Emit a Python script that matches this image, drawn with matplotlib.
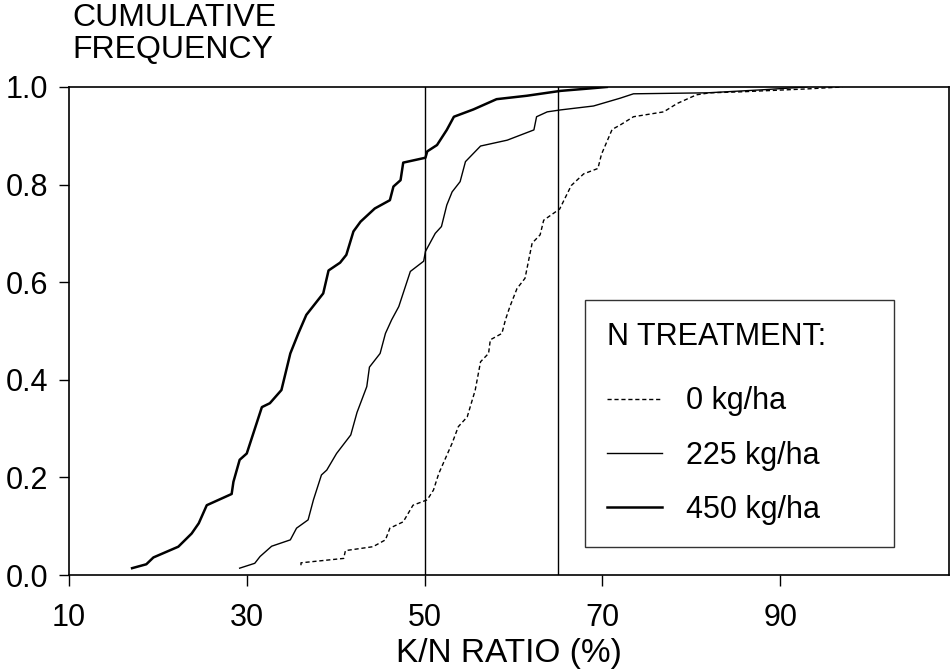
import matplotlib
matplotlib.use("Agg")
import matplotlib.pyplot as plt

plt.rcParams['font.family'] = ['Liberation Sans', 'DejaVu Sans']

# cumulative frequency curves
x_0 = [36.1, 36.1, 40.9, 41.1, 44.2, 45.6, 46.1, 47.6, 48.7, 50.3, 51.0, 51.6,
       53.1, 53.8, 54.8, 55.7, 56.3, 57.2, 57.4, 58.7, 59.1, 59.6, 60.4, 61.3,
       62.1, 63.0, 63.4, 65.2, 66.5, 67.9, 69.5, 69.9, 71.1, 72.0, 73.5, 76.9,
       78.4, 80.6, 82.1, 85.5, 93.0, 97.0]
y_0 = [0.020, 0.025, 0.034, 0.050, 0.058, 0.072, 0.096, 0.109, 0.143, 0.154,
       0.174, 0.208, 0.270, 0.304, 0.324, 0.379, 0.437, 0.454, 0.482, 0.495,
       0.523, 0.550, 0.587, 0.608, 0.680, 0.697, 0.727, 0.750, 0.798, 0.822,
       0.833, 0.862, 0.913, 0.922, 0.939, 0.949, 0.966, 0.984, 0.988, 0.990,
       0.996, 1.0]

x_225 = [29.2, 30.9, 31.5, 32.8, 34.9, 35.6, 36.9, 37.5, 38.4, 39.0, 40.1, 40.9,
         41.7, 42.4, 43.5, 43.8, 45.0, 45.6, 46.3, 47.1, 48.4, 49.9, 50.1, 51.2,
         51.9, 52.5, 53.1, 54.0, 54.6, 56.3, 59.3, 62.3, 62.6, 63.8, 65.3, 69.0,
         72.0, 73.5, 81.8, 87.8, 93.0]
y_225 = [0.014, 0.024, 0.038, 0.059, 0.072, 0.096, 0.113, 0.154, 0.205, 0.215,
         0.249, 0.268, 0.287, 0.333, 0.386, 0.426, 0.454, 0.495, 0.523, 0.550,
         0.622, 0.643, 0.663, 0.700, 0.714, 0.758, 0.785, 0.806, 0.847, 0.879,
         0.891, 0.912, 0.939, 0.949, 0.953, 0.961, 0.977, 0.986, 0.988, 0.994,
         1.0]

x_450 = [17.1, 18.7, 19.5, 22.3, 23.8, 24.6, 25.5, 28.3, 28.5, 29.2, 30.0, 31.7,
         32.6, 33.9, 34.9, 35.8, 36.7, 38.6, 39.2, 40.5, 41.2, 42.0, 42.8, 44.4,
         46.1, 46.5, 47.3, 47.6, 50.1, 50.3, 51.4, 52.5, 53.3, 55.5, 58.1, 61.5,
         65.3, 68.6, 70.5]
y_450 = [0.014, 0.022, 0.036, 0.058, 0.085, 0.106, 0.143, 0.166, 0.191, 0.236,
         0.249, 0.344, 0.352, 0.379, 0.454, 0.495, 0.533, 0.577, 0.624, 0.640,
         0.656, 0.704, 0.724, 0.751, 0.768, 0.796, 0.809, 0.845, 0.855, 0.868,
         0.881, 0.912, 0.939, 0.954, 0.975, 0.982, 0.992, 0.997, 1.0]

ref_lines = [50, 65]
x_ticks = [10, 30, 50, 70, 90]
y_ticks = [0.0, 0.2, 0.4, 0.6, 0.8, 1.0]
labels = ['0 kg/ha', '225 kg/ha', '450 kg/ha']

fig = plt.figure(figsize=(9.5, 6.69), dpi=100)
ax = fig.add_axes([0.0726, 0.1405, 0.9264, 0.7295])

for v in ref_lines:
    ax.axvline(v, color='black', lw=1.0, zorder=1)

l0, = ax.plot(x_0, y_0, color='black', lw=1.0, linestyle=(0, (3, 2)))
l1, = ax.plot(x_225, y_225, color='black', lw=1.0)
l2, = ax.plot(x_450, y_450, color='black', lw=1.8)

ax.set_xlim(10, 109)
ax.set_ylim(0, 1.0)
ax.set_xticks(x_ticks)
ax.set_yticks(y_ticks)
ax.set_yticklabels(['%.1f' % t for t in y_ticks])
ax.tick_params(axis='x', direction='out', length=8, width=1, pad=12, labelsize=22)
ax.tick_params(axis='y', direction='out', length=7, width=1, pad=8, labelsize=22)
for s in ax.spines.values():
    s.set_linewidth(1.2)

ax.set_xlabel('K/N RATIO (%)', fontsize=24, labelpad=4)
fig.text(0.076, 0.996, 'CUMULATIVE\nFREQUENCY', ha='left', va='top',
         fontsize=23, linespacing=1.1)

leg = ax.legend([l0, l1, l2], labels, title='N TREATMENT:',
                loc='lower left', bbox_to_anchor=(0.586, 0.057, 0.3515, 0.52),
                mode='expand', fontsize=22, title_fontsize=22,
                frameon=True, fancybox=False, edgecolor='black',
                borderpad=0.72, labelspacing=0.8, handlelength=1.8,
                handletextpad=0.8, borderaxespad=0)
leg._legend_box.align = 'left'
leg._legend_box.sep = 0.8 * 22 + 7   # a bit more room under the title
leg.get_frame().set_linewidth(1.0)

fig.savefig('out.png', dpi=100)
